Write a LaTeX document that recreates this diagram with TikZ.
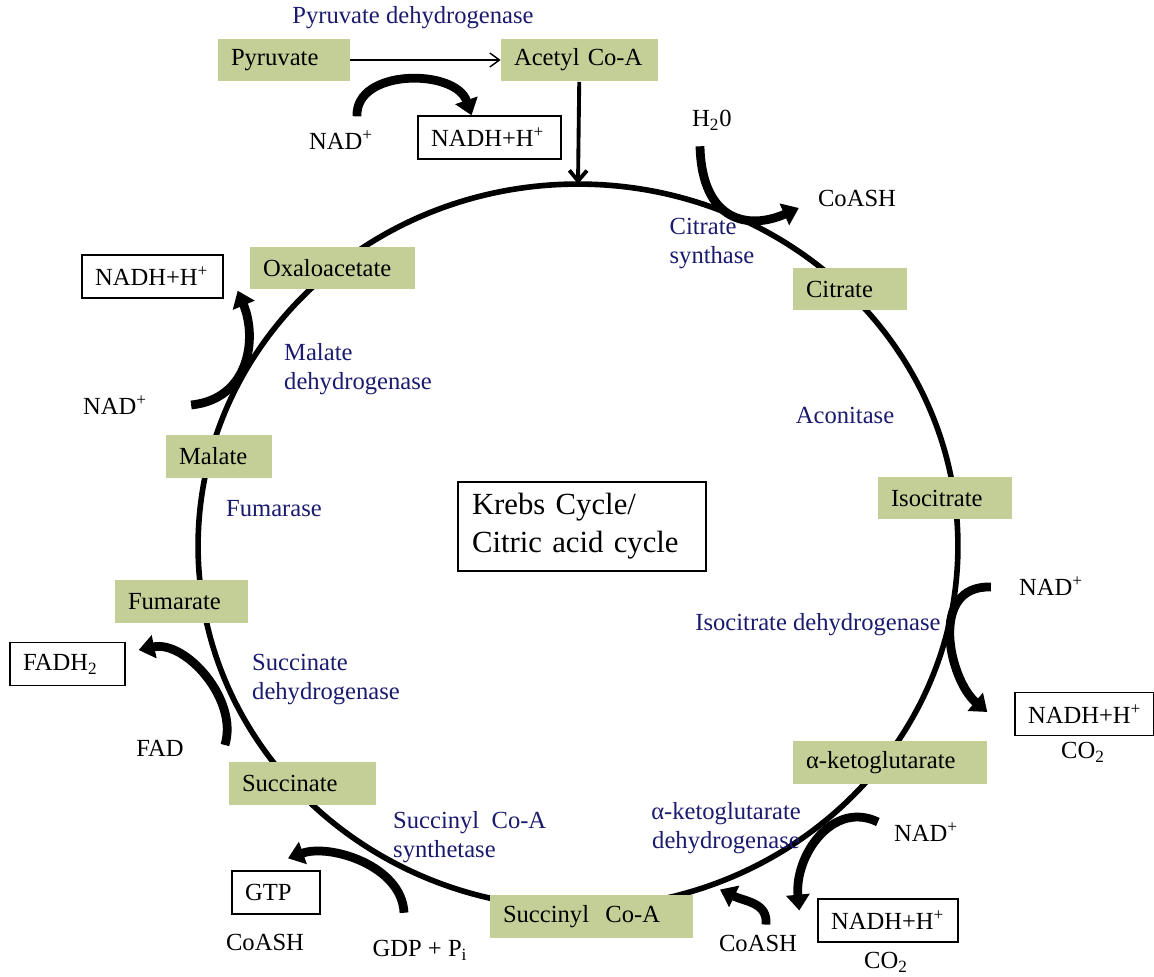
\documentclass[tikz,border=0pt]{standalone}
\usepackage{fontspec}
\setmainfont{Liberation Serif}
\usetikzlibrary{positioning,arrows.meta,calc}
\definecolor{kgreen}{HTML}{C4CF97}
\definecolor{kblue}{HTML}{1A1A6E}
\tikzset{
  met/.style={fill=kgreen, minimum height=0.86cm, inner xsep=0.26cm, text width=#1, align=left},
  prod/.style={draw, line width=0.8pt, fill=white, minimum height=0.86cm, inner xsep=0.26cm, text width=#1, align=left},
  enz/.style={text=kblue, align=left},
  fat/.style={line width=5pt, -{Triangle[width=13pt,length=9pt]}},
}

\begin{document}
\begin{tikzpicture}[x=0.02cm, y=-0.02cm, font=\fontsize{14}{16.5}\selectfont]
    \useasboundingbox (0,0) rectangle (1154,977);
    \draw[line width=3.2pt] (578,546) ellipse [x radius=7.6cm, y radius=7.24cm];
    \coordinate (top) at (578,184);

    \node[met=2.12cm] (pyr) at (284,60) {Pyruvate};
    \node[met=2.62cm] (acoa) at (579.5,60) {Acetyl Co-A};
    \node[met=2.78cm] (oaa) at (332.5,268) {Oxaloacetate};
    \node[met=1.76cm] (cit) at (850,289) {Citrate};
    \node[met=2.16cm] (icit) at (945,498) {Isocitrate};
    \node[met=3.36cm] (akg) at (890,762.5) {α-ketoglutarate};
    \node[met=3.54cm] (scoa) at (591.5,916.5) {Succinyl\ \ Co-A};
    \node[met=2.42cm] (succ) at (302.5,783.5) {Succinate};
    \node[met=2.14cm] (fum) at (181.5,601.5) {Fumarate};
    \node[met=1.6cm] (mal) at (219,456.5) {Malate};

    \node[prod=2.34cm] (nadhA) at (489.5,137.5) {NADH+H\textsuperscript{+}};
    \node[prod=2.30cm] (nadhM) at (152.5,276.5) {NADH+H\textsuperscript{+}};
    \node[prod=1.78cm] (fadh) at (67.5,664) {FADH\textsubscript{2}};
    \node[prod=1.24cm] (gtp) at (276,892.5) {GTP};
    \node[prod=2.26cm] (nadhI) at (1084.5,714) {NADH+H\textsuperscript{+}};
    \node[prod=2.28cm] (nadhK) at (888,920.5) {NADH+H\textsuperscript{+}};

    \node[draw, line width=0.8pt, minimum width=4.96cm, minimum height=1.78cm, text width=4.4cm, align=left,
      font=\fontsize{17.5}{21.5}\selectfont] (krebs) at (582,526.5) {Krebs Cycle/\\Citric acid cycle};

    \node[enz] (pdh) at (413,18) {Pyruvate dehydrogenase};
    \node[enz] (cs) at (712,244) {Citrate\\synthase};
    \node[enz] (acon) at (845,415) {Aconitase};
    \node[enz] (idh) at (818,625) {Isocitrate dehydrogenase};
    \node[enz, align=center] (akgdh) at (726,828) {α-ketoglutarate\\dehydrogenase};
    \node[enz, anchor=west] (scs) at (387,837) {Succinyl\ \ Co-A\\synthetase};
    \node[enz, anchor=west] (sdh) at (246,680) {Succinate\\dehydrogenase};
    \node[enz] (fumase) at (274,509) {Fumarase};
    \node[enz, anchor=west] (mdh) at (278,369) {Malate\\dehydrogenase};

    \node (nadA) at (341,140) {NAD\textsuperscript{+}};
    \node (h2o) at (712,120) {H\textsubscript{2}0};
    \node (coashC) at (857,198) {CoASH};
    \node (nadI) at (1051,586) {NAD\textsuperscript{+}};
    \node (co2I) at (1083,752) {CO\textsubscript{2}};
    \node (nadK) at (926,832) {NAD\textsuperscript{+}};
    \node (co2K) at (886,962) {CO\textsubscript{2}};
    \node (coashK) at (758,943) {CoASH};
    \node (gdp) at (420,950) {GDP + P\textsubscript{i}};
    \node (coashG) at (265,942) {CoASH};
    \node (fad) at (160,748) {FAD};
    \node (nadM) at (115,405) {NAD\textsuperscript{+}};

    \draw[line width=0.8pt, -{Straight Barb[length=5.5pt,width=8pt]}] (pyr) -- (acoa);
    \draw[line width=2.2pt, -{Straight Barb[length=6pt,width=10pt]}] (acoa) -- (top);

    \draw[fat] ($(nadA.north)+(16,-8)$) .. controls +(-2,-48) and +(-16,-47) .. ($(nadhA.north)+(-18,0)$);
    \draw[fat] ($(h2o.south)+(-12,10)$) .. controls +(2,76) and +(-50,22) .. ($(coashC.west)+(-13,10)$);
    \draw[fat] ($(nadI.west)+(-22,1)$) .. controls +(-63,-2) and +(-38,-32) .. ($(nadhI.west)+(-27,-2)$);
    \draw[fat] ($(nadK.west)+(-10,-10)$) .. controls +(-45,-22) and +(-5,-55) .. ($(nadhK.west)+(-18,-10)$);
    \draw[fat] ($(coashK.north)+(8,-4)$) .. controls +(2,-22) and +(25,12) .. ($(coashK.north)+(-38,-39)$);
    \draw[fat] ($(gdp.north)+(-16,-21)$) .. controls +(-2,-47) and +(42,-15) .. ($(gtp.north)+(12,-12)$);
    \draw[fat] ($(fad.east)+(35,-3)$) .. controls +(14,-45) and +(47,-10) .. ($(fadh.east)+(13,-14)$);
    \draw[fat] ($(nadM.east)+(38,0)$) .. controls +(58,-6) and +(20,48) .. ($(nadhM.south east)+(14,-8)$);
\end{tikzpicture}
\end{document}
